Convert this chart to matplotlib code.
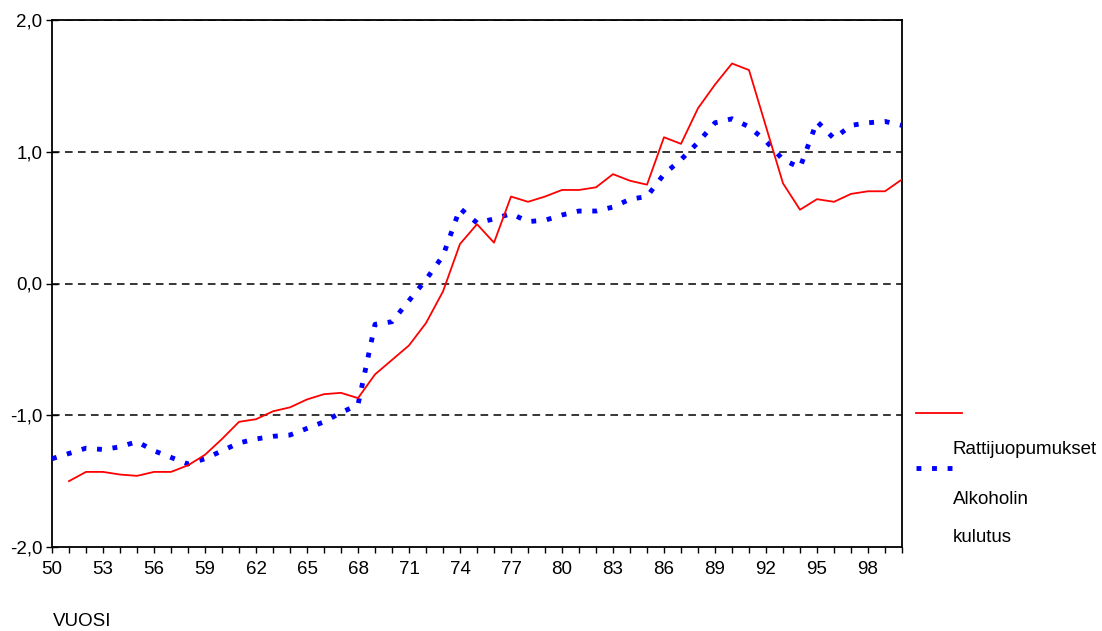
import matplotlib
matplotlib.use("Agg")
import matplotlib.pyplot as plt
from matplotlib.lines import Line2D
import numpy as np

plt.rcParams['font.family'] = ['Liberation Sans', 'DejaVu Sans']

years_red = list(range(51, 101))
rattijuopumukset = [
    -1.50, -1.43, -1.43, -1.45, -1.46, -1.43, -1.43, -1.38, -1.30, -1.18,
    -1.05, -1.03, -0.97, -0.94, -0.88, -0.84, -0.83, -0.87, -0.69, -0.58,
    -0.47, -0.30, -0.06, 0.30, 0.45, 0.31, 0.66, 0.62, 0.66, 0.71,
    0.71, 0.73, 0.83, 0.78, 0.75, 1.11, 1.06, 1.33, 1.51, 1.67,
    1.62, 1.19, 0.76, 0.56, 0.64, 0.62, 0.68, 0.70, 0.70, 0.79,
]
years_blue = list(range(50, 101))
alkoholin_kulutus = [
    -1.33, -1.29, -1.25, -1.26, -1.24, -1.20, -1.27, -1.32, -1.37, -1.33,
    -1.27, -1.21, -1.18, -1.16, -1.15, -1.10, -1.05, -0.98, -0.92, -0.31,
    -0.29, -0.13, 0.03, 0.21, 0.57, 0.46, 0.49, 0.53, 0.47, 0.48,
    0.52, 0.55, 0.55, 0.58, 0.64, 0.66, 0.83, 0.94, 1.07, 1.22,
    1.25, 1.19, 1.08, 0.94, 0.88, 1.23, 1.10, 1.20, 1.22, 1.23,
    1.20,
]
xtick_years = list(range(50, 100, 3))
ytick_vals = [-2, -1, 0, 1, 2]
ytick_labels = ["-2,0", "-1,0", "0,0", "1,0", "2,0"]

FS = 13.5
W, H = 1102, 631
fig = plt.figure(figsize=(W / 100, H / 100), dpi=100)
ax = fig.add_axes([52 / W, 1 - 547 / H, 850 / W, 527 / H])

for yv in [-1, 0, 1, 2]:
    ax.axhline(yv, color='black', lw=1.1, linestyle=(0, (5, 3.5)), zorder=1)

blue_style = dict(color='#0000ff', lw=3.5, linestyle=(0, (1.0, 2.2)), dash_capstyle='butt')
red_style = dict(color='#ff0000', lw=1.3)

ax.plot(years_blue, alkoholin_kulutus, zorder=3, **blue_style)
ax.plot(years_red, rattijuopumukset, zorder=4, **red_style)

ax.set_xlim(50, 100)
ax.set_ylim(-2, 2)
ax.set_xticks(range(50, 101), minor=False)
ax.set_xticklabels([str(y) if y in xtick_years else "" for y in range(50, 101)], fontsize=FS)
ax.tick_params(axis='x', direction='out', length=4, width=1, pad=6)
ax.set_yticks(ytick_vals)
ax.set_yticklabels(ytick_labels, fontsize=FS)
ax.tick_params(axis='y', direction='inout', length=8, width=1, pad=3)
for s in ax.spines.values():
    s.set_linewidth(1.3)
    s.set_color('black')

# legend (manual, as in the original)
fig.add_artist(Line2D([916 / W, 962 / W], [1 - 413 / H, 1 - 413 / H], transform=fig.transFigure, **red_style))
fig.add_artist(Line2D([916 / W, 962 / W], [1 - 468 / H, 1 - 468 / H], transform=fig.transFigure, **blue_style))
fig.text(953 / W, 1 - 449 / H, "Rattijuopumukset", fontsize=FS, va='center', ha='left')
fig.text(953 / W, 1 - 500 / H, "Alkoholin", fontsize=FS, va='center', ha='left')
fig.text(953 / W, 1 - 538 / H, "kulutus", fontsize=FS, va='center', ha='left')
fig.text(53 / W, 1 - 622 / H, "VUOSI", fontsize=FS, va='center', ha='left')

fig.savefig("out.png", dpi=100)
